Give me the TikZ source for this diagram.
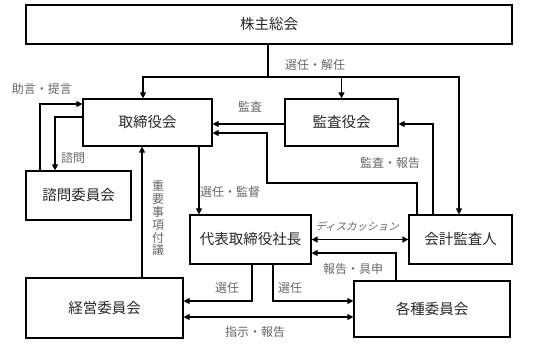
\documentclass[tikz,border=0pt]{standalone}
\usepackage{fontspec}
\setmainfont{Noto Sans CJK JP}
\usetikzlibrary{arrows.meta}
\tikzset{
  orgbox/.style={draw, line width=1.2pt, inner sep=0pt, text=black!85, font=\fontsize{14.5}{16}\selectfont},
  lbl/.style={text=black!60, font=\fontsize{12}{13}\selectfont, inner sep=0pt},
  arr/.style={line width=1.2pt, -{Triangle[length=6pt,width=6pt]}},
  arrs/.style={line width=1.2pt, {Triangle[length=6pt,width=6pt]}-{Triangle[length=6pt,width=6pt]}},
}

\begin{document}
\begin{tikzpicture}[x=1pt, y=-1pt]
  \useasboundingbox (0,0) rectangle (533,347);
  % boxes
  \node[orgbox, minimum width=486pt, minimum height=39pt] (soukai) at (269,24.5) {株主総会};
  \node[orgbox, minimum width=129pt, minimum height=47pt] (torishimari) at (147.5,122.5) {取締役会};
  \node[orgbox, minimum width=113pt, minimum height=47pt] (kansayaku) at (341.5,122.5) {監査役会};
  \node[orgbox, minimum width=105pt, minimum height=49pt] (shimon) at (78.5,195.5) {諮問委員会};
  \node[orgbox, minimum width=121pt, minimum height=49pt] (shacho) at (250.5,239.5) {代表取締役社長};
  \node[orgbox, minimum width=103pt, minimum height=49pt] (kaikei) at (460.5,239.5) {会計監査人};
  \node[orgbox, minimum width=157pt, minimum height=60pt] (keiei) at (104.5,308) {経営委員会};
  \node[orgbox, minimum width=156pt, minimum height=56pt] (kakushu) at (432,309) {各種委員会};
  % from the shareholders
  \coordinate (split) at (268,77);
  \draw[line width=1.2pt] (soukai.south -| split) -- (split);
  \draw[arr] (split) -| (torishimari.north -| 143,0);
  \draw[arr] (split) -| (kaikei.north -| 459,0);
  \draw[arr] (kansayaku.north |- split) -- (kansayaku.north);
  \node[lbl] (l-sennin-kainin) at (315,65) {選任・解任};
  % audit
  \draw[arr] (kansayaku.west |- 0,124) -- (torishimari.east |- 0,124);
  \node[lbl] (l-kansa) at (250,107) {監査};
  \draw[arr] (kaikei.north -| 417,0) |- (267,183) |- (torishimari.east |- 0,133);
  \draw[arr] (kaikei.north -| 433,0) |- (kansayaku.east |- 0,124);
  \node[lbl] (l-kansa-houkoku) at (390,163) {監査・報告};
  % advisory committee
  \draw[arr] (torishimari.west |- 0,117) -| (shimon.north -| 55,0);
  \node[lbl] (l-shimon) at (73,158) {諮問};
  \draw[arr] (shimon.north -| 40,0) |- (torishimari.west |- 0,104);
  \node[lbl] (l-jogen) at (42,89) {助言・提言};
  % president
  \draw[arr] (torishimari.south -| 199,0) -- (shacho.north -| 199,0);
  \node[lbl] (l-sennin-kantoku) at (230,192) {選任・監督};
  \draw[arr] (keiei.north -| 142,0) -- (torishimari.south -| 142,0);
  \node[lbl, align=center, font=\fontsize{12}{12.8}\selectfont] (l-fugi) at (158,218.5) {重\\要\\事\\項\\付\\議};
  \draw[arrs] (shacho.east) -- (kaikei.west);
  \node[lbl, xslant=0.25, font=\fontsize{10.5}{12}\selectfont] (l-discussion) at (358,226) {ディスカッション};
  \draw[arr] (kakushu.north -| 396,0) |- (shacho.east |- 0,253);
  \node[lbl] (l-gushin) at (353,269) {報告・具申};
  % committees
  \draw[arr] (shacho.south -| 252,0) |- (keiei.east |- 0,301);
  \node[lbl] (l-sennin-a) at (227,288) {選任};
  \draw[arr] (shacho.south -| 273,0) |- (kakushu.west |- 0,301);
  \node[lbl] (l-sennin-b) at (290,288) {選任};
  \draw[arrs] (keiei.east |- 0,317) -- (kakushu.west |- 0,317);
  \node[lbl] (l-shiji) at (255,332) {指示・報告};
\end{tikzpicture}
\end{document}
